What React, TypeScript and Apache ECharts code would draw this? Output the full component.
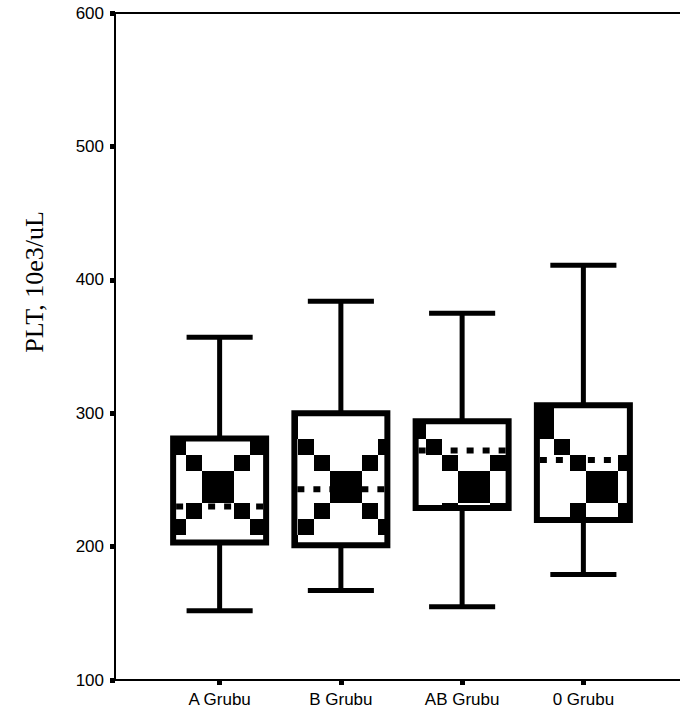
import React, { useEffect, useRef } from 'react';
import * as echarts from 'echarts';

const categories = ['A Grubu', 'B Grubu', 'AB Grubu', '0 Grubu'];
const lowValues = [152, 167, 155, 179];
const q1Values = [203, 201, 229, 220];
const medianValues = [230, 243, 272, 265];
const q3Values = [281, 300, 294, 306];
const highValues = [357, 384, 375, 411];
const yTicks = [100, 200, 300, 400, 500, 600];
const yTitle = 'PLT, 10e3/uL';

function makeTile(): string {
  const size = 128;
  const cell = 16;
  const c = document.createElement('canvas');
  c.width = size;
  c.height = size;
  const ctx = c.getContext('2d') as CanvasRenderingContext2D;
  ctx.fillStyle = '#ffffff';
  ctx.fillRect(0, 0, size, size);
  ctx.fillStyle = '#000000';
  const ox = 26;
  const oy = 39;
  for (let r = 0; r < 8; r++) {
    for (let k = 0; k < 8; k++) {
      if (r === k || r + k === 7) {
        const x = k * cell + ox;
        const y = r * cell + oy;
        for (const dx of [0, -size]) {
          for (const dy of [0, -size]) {
            ctx.fillRect(x + dx, y + dy, cell, cell);
          }
        }
      }
    }
  }
  return c.toDataURL();
}

export default function App() {
  const ref = useRef<HTMLDivElement>(null);
  useEffect(() => {
    if (!ref.current) return;
    const chart = echarts.init(ref.current, null, { renderer: 'svg' });
    const tile = makeTile();
    const pattern: any = { image: tile, repeat: 'repeat', imageWidth: 128, imageHeight: 128 };
    const data = categories.map((_, i) => [i, lowValues[i], q1Values[i], medianValues[i], q3Values[i], highValues[i]]);
    const axisFont = { color: '#000', fontSize: 17, fontFamily: '"Liberation Sans", Arial, sans-serif' };
    chart.setOption({
      animation: false,
      backgroundColor: '#ffffff',
      grid: [
        { left: 115, right: -40, top: 13, bottom: 41 },
        { left: 159, right: 36, top: 13, bottom: 41 },
      ],
      xAxis: [
        {
          gridIndex: 0, type: 'value', min: 0, max: 1, position: 'bottom',
          axisLine: { show: true, lineStyle: { color: '#000', width: 2 } },
          axisTick: { show: false }, axisLabel: { show: false }, splitLine: { show: false },
        },
        {
          gridIndex: 0, type: 'value', min: 0, max: 1, position: 'top',
          axisLine: { show: true, lineStyle: { color: '#000', width: 2 } },
          axisTick: { show: false }, axisLabel: { show: false }, splitLine: { show: false },
        },
        {
          gridIndex: 1, type: 'category', data: categories, position: 'bottom',
          axisLine: { show: false },
          axisTick: { show: true, alignWithLabel: true, length: 5, lineStyle: { color: '#000', width: 5 } },
          axisLabel: { ...axisFont, margin: 11 },
          splitLine: { show: false },
        },
      ],
      yAxis: [
        {
          gridIndex: 0, type: 'value', min: yTicks[0], max: yTicks[yTicks.length - 1], interval: 100,
          axisLine: { show: true, lineStyle: { color: '#000', width: 2 } },
          axisTick: { show: true, length: 5, lineStyle: { color: '#000', width: 5 } },
          axisLabel: { ...axisFont, margin: 11 },
          splitLine: { show: false },
        },
        {
          gridIndex: 1, type: 'value', min: yTicks[0], max: yTicks[yTicks.length - 1], show: false,
          splitLine: { show: false },
        },
      ],
      graphic: [
        {
          type: 'text', x: 34, y: 282, rotation: Math.PI / 2,
          style: {
            text: yTitle, fill: '#000',
            font: '26px "Liberation Serif", "Times New Roman", serif',
            textAlign: 'center', textVerticalAlign: 'middle',
          },
        },
      ],
      series: [
        {
          type: 'custom',
          xAxisIndex: 2,
          yAxisIndex: 1,
          data,
          encode: { x: 0, y: [1, 2, 3, 4, 5] },
          renderItem: (params: any, api: any) => {
            const idx = api.value(0);
            const low = api.coord([idx, api.value(1)]);
            const q1 = api.coord([idx, api.value(2)]);
            const med = api.coord([idx, api.value(3)]);
            const q3 = api.coord([idx, api.value(4)]);
            const high = api.coord([idx, api.value(5)]);
            const band = api.size([1, 0])[0];
            const boxW = band * 0.767;
            const capW = band * 0.545;
            const cx = low[0];
            const black = '#000';
            return {
              type: 'group',
              children: [
                { type: 'line', shape: { x1: cx, y1: high[1], x2: cx, y2: low[1] }, style: { stroke: black, lineWidth: 5 } },
                { type: 'line', shape: { x1: cx - capW / 2, y1: high[1], x2: cx + capW / 2, y2: high[1] }, style: { stroke: black, lineWidth: 5 } },
                { type: 'line', shape: { x1: cx - capW / 2, y1: low[1], x2: cx + capW / 2, y2: low[1] }, style: { stroke: black, lineWidth: 5 } },
                {
                  type: 'rect',
                  shape: { x: cx - boxW / 2, y: q3[1], width: boxW, height: q1[1] - q3[1] },
                  style: { fill: pattern, stroke: black, lineWidth: 6 },
                },
                {
                  type: 'line',
                  shape: { x1: cx - boxW / 2 + 3, y1: med[1], x2: cx + boxW / 2 - 3, y2: med[1] },
                  style: { stroke: black, lineWidth: 6, lineDash: [7, 9] },
                },
              ],
            };
          },
        },
      ],
    });
    return () => chart.dispose();
  }, []);
  return <div ref={ref} style={{ position: 'absolute', left: 0, top: 0, width: 680, height: 721 }} />;
}
